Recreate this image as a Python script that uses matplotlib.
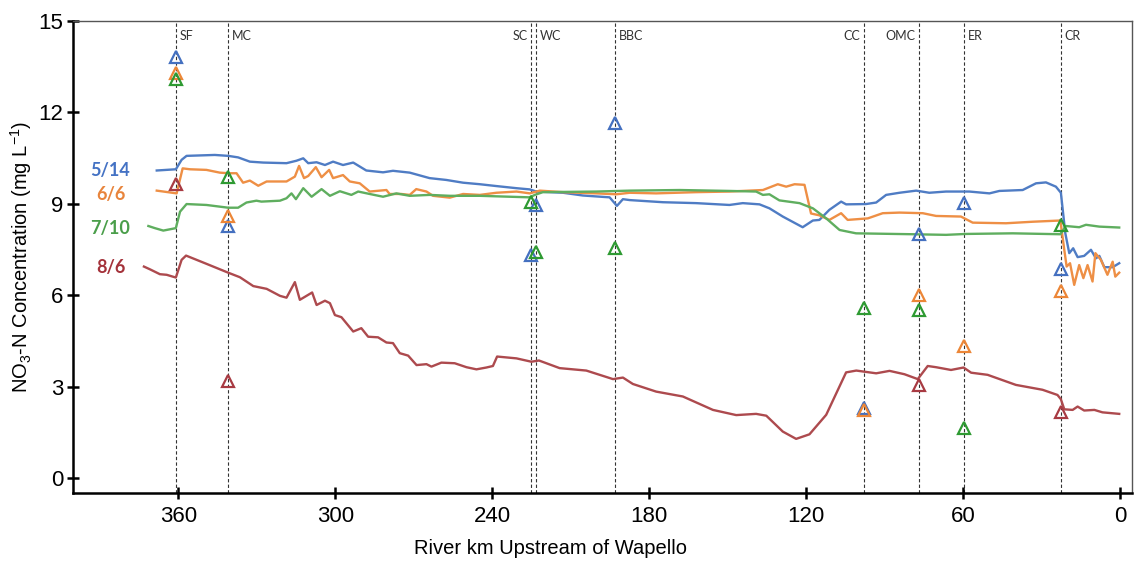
import numpy as np
import matplotlib
matplotlib.use("Agg")
import matplotlib.pyplot as plt

plt.rcParams['font.family'] = ['Liberation Sans', 'DejaVu Sans']
plt.rcParams['mathtext.default'] = 'regular'

# Longitudinal NO3-N profiles (river km upstream of Wapello)
blue_km = [368.3, 361, 358.8, 356.9, 346.1, 341, 337.2, 332.7, 327.6, 318.7, 314.9, 312.3, 310.4, 307.2,
           304.0, 300.9, 297.1, 293.2, 288.2, 281.8, 278, 271.6, 264, 257.6, 251.2, 244.8, 238.5, 230.8,
           225.7, 223.2, 213.0, 205.4, 195.2, 192.4, 190.1, 187.5, 174.8, 162.1, 149.4, 144.3, 137.9,
           134.1, 129.0, 121.4, 117.5, 115, 111.2, 106.7, 104.8, 97.2, 93.3, 89.5, 84.4, 78.0, 73.0, 66.6,
           57.7, 50.0, 46.2, 37.3, 32.2, 28.4, 24.6, 22.7, 21.0, 19.5, 18.0, 16.3, 13.8, 11.2, 9.3, 8.0,
           6.1, 2.9, 0.4]
blue_no3 = [10.09, 10.13, 10.44, 10.57, 10.60, 10.57, 10.52, 10.38, 10.35, 10.33, 10.41, 10.49, 10.33,
            10.36, 10.27, 10.38, 10.27, 10.35, 10.09, 10.03, 10.08, 10.02, 9.84, 9.78, 9.69, 9.64, 9.58,
            9.51, 9.47, 9.40, 9.36, 9.27, 9.21, 8.93, 9.15, 9.12, 9.05, 9.02, 8.96, 9.02, 8.98, 8.85, 8.58,
            8.23, 8.45, 8.47, 8.80, 9.07, 8.98, 8.99, 9.04, 9.29, 9.36, 9.43, 9.36, 9.40, 9.40, 9.34, 9.42,
            9.45, 9.67, 9.70, 9.56, 9.36, 8.03, 7.38, 7.54, 7.25, 7.29, 7.49, 7.21, 7.29, 6.92, 6.92, 7.05]

orange_km = [368.3, 360.7, 358.4, 355.6, 349.3, 344.2, 341, 337.8, 335.3, 332.7, 329.5, 326.3, 318.7,
             315.5, 313.9, 312.0, 310.4, 307.5, 305.3, 302.4, 300.9, 297.1, 294.5, 290.7, 286.9, 280.5,
             279.3, 274.8, 271.6, 269.1, 265.2, 262.7, 256.3, 251.2, 244.8, 238.5, 230.8, 225.7, 221.9,
             213, 200.3, 192.6, 187.5, 177.4, 162.1, 149.4, 136.6, 130.9, 127.7, 124.5, 120.7, 118.2, 115,
             111.2, 106.7, 104.2, 96.5, 90.8, 84.4, 75.5, 70.4, 60.9, 56.4, 43.7, 33.5, 22.9, 21.4, 20.5,
             19.2, 17.6, 15.7, 14.1, 12.5, 10.6, 9.5, 7.4, 4.9, 2.9, 1.9, 0.4]
orange_no3 = [9.43, 9.34, 10.16, 10.13, 10.11, 10.02, 10.0, 10.0, 9.69, 9.76, 9.59, 9.73, 9.73, 9.89,
              10.24, 9.84, 9.91, 10.2, 9.87, 10.11, 9.84, 9.94, 9.73, 9.67, 9.40, 9.45, 9.32, 9.32, 9.29,
              9.48, 9.40, 9.26, 9.20, 9.32, 9.29, 9.36, 9.40, 9.34, 9.43, 9.38, 9.34, 9.31, 9.36, 9.34,
              9.38, 9.40, 9.45, 9.64, 9.56, 9.64, 9.62, 8.68, 8.62, 8.47, 8.69, 8.47, 8.52, 8.69, 8.71,
              8.69, 8.60, 8.58, 8.38, 8.36, 8.41, 8.45, 7.49, 6.94, 7.05, 6.34, 6.99, 6.56, 6.99, 6.45,
              7.38, 7.16, 6.67, 7.10, 6.61, 6.74]

green_km = [371.5, 369, 365.8, 361, 359.4, 356.9, 349.3, 341, 337.2, 334.0, 330.2, 328.3, 321.2, 318.7,
            316.8, 315.1, 312.3, 309.1, 305.3, 302.1, 298.3, 293.9, 291.3, 286.9, 281.8, 276.7, 271.6,
            264, 256.3, 244.8, 233.4, 225.7, 223.8, 220.7, 200.3, 187.5, 168.4, 149.4, 139.2, 136.6,
            134.1, 130.3, 122.6, 117.5, 112.4, 107.3, 101, 79.3, 66.6, 58.9, 41.1, 22.9, 20.8, 15.7,
            13.1, 8.0, 2.9, 0.4]
green_no3 = [8.27, 8.20, 8.12, 8.20, 8.74, 8.99, 8.96, 8.87, 8.87, 9.04, 9.10, 9.07, 9.10, 9.18, 9.34,
             9.15, 9.51, 9.23, 9.48, 9.26, 9.41, 9.29, 9.40, 9.32, 9.23, 9.34, 9.26, 9.29, 9.26, 9.26,
             9.23, 9.21, 9.29, 9.38, 9.40, 9.43, 9.45, 9.42, 9.40, 9.29, 9.31, 9.11, 9.02, 8.85, 8.52,
             8.14, 8.03, 8.0, 7.98, 8.01, 8.03, 8.0, 8.27, 8.23, 8.31, 8.25, 8.23, 8.22]

red_km = [373.2, 370.9, 367.1, 364.5, 361, 358.8, 357.1, 349.3, 341, 336.5, 331.4, 326.3, 321.2, 318.7,
          315.5, 313.6, 308.9, 307.2, 304.0, 302.1, 300.2, 297.7, 293.2, 290.1, 287.5, 283.7, 280.5, 278,
          275.4, 272.2, 269.0, 265.2, 263.3, 259.5, 254.4, 249.9, 246.1, 242.3, 239.8, 238.2, 230.8,
          225.1, 222.2, 214.3, 204.1, 193.9, 190.1, 186.3, 177.4, 167.2, 155.7, 146.8, 139.2, 135.3,
          129.0, 123.9, 118.8, 112.4, 104.8, 100.9, 93.3, 88.2, 82.5, 77.4, 73.6, 70.4, 64.7, 59.9,
          57.0, 50.7, 39.9, 29.7, 24.0, 22.7, 21.4, 18.2, 16.3, 13.8, 9.9, 6.8, 0.4]
red_no3 = [6.94, 6.85, 6.69, 6.67, 6.58, 7.16, 7.30, 7.03, 6.74, 6.59, 6.30, 6.21, 5.98, 5.92, 6.43,
           5.85, 6.09, 5.68, 5.82, 5.74, 5.35, 5.28, 4.81, 4.92, 4.64, 4.62, 4.45, 4.43, 4.10, 4.02,
           3.71, 3.74, 3.66, 3.79, 3.77, 3.64, 3.57, 3.63, 3.68, 3.99, 3.93, 3.82, 3.86, 3.61, 3.53,
           3.25, 3.30, 3.09, 2.84, 2.68, 2.24, 2.07, 2.11, 2.05, 1.53, 1.29, 1.44, 2.08, 3.47, 3.53,
           3.44, 3.52, 3.41, 3.25, 3.68, 3.64, 3.55, 3.63, 3.46, 3.39, 3.06, 2.90, 2.73, 2.59, 2.26,
           2.24, 2.35, 2.22, 2.24, 2.16, 2.11]

# Tributary stations
station_names = ['SF', 'MC', 'SC', 'WC', 'BBC', 'CC', 'OMC', 'ER', 'CR']
station_km = [361, 341, 225.1, 223.5, 193, 97.8, 77, 59.6, 22.7]
label_left = ['SC', 'CC', 'OMC']

# Tributary samples (triangles)
blue_tri_km = [361, 341, 225.1, 223.5, 193, 97.8, 77, 59.6, 22.7]
blue_tri = [13.8, 8.27, 7.32, 8.96, 11.65, 2.29, 8.0, 9.03, 6.86]
orange_tri_km = [361, 341, 97.8, 77, 59.6, 22.7]
orange_tri = [13.3, 8.6, 2.23, 6.01, 4.34, 6.13]
green_tri_km = [361, 341, 225.1, 223.5, 193, 97.8, 77, 59.6, 22.7]
green_tri = [13.1, 9.88, 9.07, 7.43, 7.54, 5.57, 5.52, 1.64, 8.3]
red_tri_km = [361, 341, 77, 22.7]
red_tri = [9.65, 3.2, 3.06, 2.18]

dates = ['5/14', '6/6', '7/10', '8/6']
date_label_y = [10.1, 9.29, 8.2, 6.9]

line_colors = ['#4f7cc4', '#ee8f45', '#5fae5f', '#ad4a4e']
tri_colors = ['#4470c0', '#ec8637', '#2e9a32', '#a83a42']
text_colors = ['#4472c4', '#e8843c', '#4a9e4a', '#a4323a']


def main():
    fig, ax = plt.subplots(figsize=(11.34, 5.61), dpi=100)
    fig.subplots_adjust(left=0.0644, right=0.9985, bottom=0.122, top=0.963)

    for km in station_km:
        ax.axvline(km, color='#333333', lw=0.8, ls=(0, (3, 2)), zorder=1)
    for name, km in zip(station_names, station_km):
        if name in label_left:
            ax.text(km + 1.5, 14.5, name, ha='right', va='center', fontsize=9,
                    color='#333333', family=['Lato', 'DejaVu Sans'])
        else:
            ax.text(km - 1.5, 14.5, name, ha='left', va='center', fontsize=9,
                    color='#333333', family=['Lato', 'DejaVu Sans'])

    series = [(blue_km, blue_no3), (orange_km, orange_no3), (green_km, green_no3), (red_km, red_no3)]
    for (km, no3), c in zip(series, line_colors):
        ax.plot(km, no3, color=c, lw=1.7, zorder=2)

    tris = [(blue_tri_km, blue_tri), (orange_tri_km, orange_tri),
            (green_tri_km, green_tri), (red_tri_km, red_tri)]
    for (km, no3), c in zip(tris, tri_colors):
        ax.plot(km, no3, ls='none', marker='^', ms=8, mfc='none', mec=c, mew=1.6, zorder=3)

    for d, y, c in zip(dates, date_label_y, text_colors):
        ax.text(386, y, d, ha='center', va='center', fontsize=13, fontweight='bold',
                color=c, family=['Lato', 'DejaVu Sans'])

    ax.set_xlim(400.3, -4.6)
    ax.set_ylim(-0.47, 15.0)
    ax.set_xticks([360, 300, 240, 180, 120, 60, 0])
    ax.set_yticks([0, 3, 6, 9, 12, 15])

    ax.set_xlabel('River km Upstream of Wapello', fontsize=14.5)
    ax.set_ylabel(r'NO$_3$-N Concentration (mg L$^{-1}$)', fontsize=14.5)
    ax.xaxis.set_label_coords(0.451, -0.099)
    ax.yaxis.set_label_coords(-0.037, 0.5)

    ax.tick_params(axis='both', direction='inout', length=9, width=1.8, labelsize=16, color='black')
    ax.tick_params(axis='y', pad=2.7)
    ax.tick_params(axis='x', pad=5.5)

    for side in ['left', 'bottom']:
        ax.spines[side].set_linewidth(1.8)
        ax.spines[side].set_color('black')
    for side in ['top', 'right']:
        ax.spines[side].set_linewidth(1.0)
        ax.spines[side].set_color('#555555')

    fig.savefig('out.png', dpi=100)
    plt.close(fig)


if __name__ == "__main__":
    main()
